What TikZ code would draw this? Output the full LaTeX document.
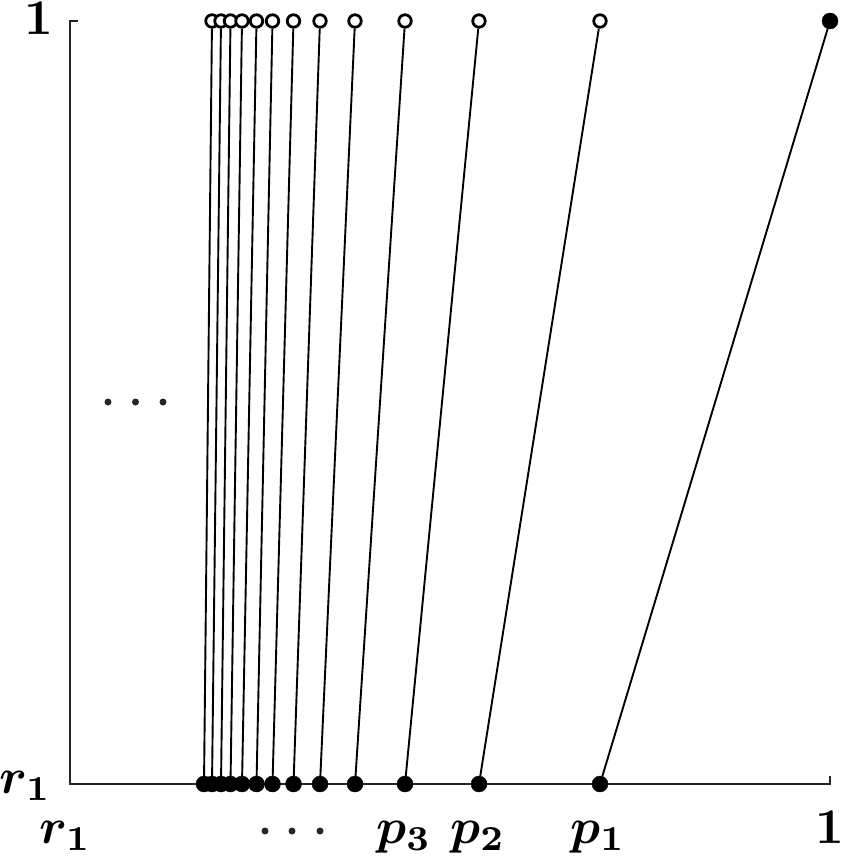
\documentclass[tikz,border=0pt]{standalone}
\usepackage{amsmath,bm}
\begin{document}
\begin{tikzpicture}[x=1pt,y=-1pt,
  axisline/.style={draw=black!85,line width=1.8pt},
  seg/.style={draw=black,line width=1.9pt},
  fdot/.style={circle,fill=black,draw=black,inner sep=0pt,minimum size=16pt},
  odot/.style={circle,fill=white,draw=black,line width=2.8pt,inner sep=0pt,minimum size=12.5pt},
  lbl/.style={inner sep=0pt,scale=5,font=\normalsize\boldmath},
  dotsym/.style={circle,fill=black!85,inner sep=0pt,minimum size=7pt}]
\useasboundingbox (0,0) rectangle (848,856);
% axes
\coordinate (o) at (70,784);
\coordinate (ytop) at (70,21);
\coordinate (xend) at (830,784);
\draw[axisline] (78,21) -- (ytop) -- (o) -- (xend) -- (830,776);
% points
\foreach \i/\x in {1/204,2/212,3/221,4/230.5,5/242,6/256.5,7/272.5,8/293.5,9/320,10/355,11/405,12/479,13/600}
  \node[fdot] (b\i) at (\x,784) {};
\foreach \i/\x in {2/212,3/221,4/230.5,5/242,6/256.5,7/272.5,8/293.5,9/320,10/355,11/405,12/479,13/600}
  \node[odot] (t\i) at (\x,21) {};
\node[fdot] (t14) at (830,21) {};
\foreach \i [evaluate=\i as \j using int(\i+1)] in {1,...,13}
  \draw[seg] (b\i) -- (t\j);
% labels
\node[lbl,anchor=base] (lone) at (38.5,35) {$\mathbf{1}$};
\node[lbl,anchor=base] (lr) at (25.5,793) {$r_1$};
\node[lbl,anchor=base] (br) at (65.5,843) {$r_1$};
\node[lbl,anchor=base] (p3) at (404,843) {$p_3$};
\node[lbl,anchor=base] (p2) at (478,843) {$p_2$};
\node[lbl,anchor=base] (p1) at (598,843) {$p_1$};
\node[lbl,anchor=base] (bone) at (830,843) {$\mathbf{1}$};
\foreach \x [count=\k] in {265,292,320} \node[dotsym] (bd\k) at (\x,831) {};
\foreach \x [count=\k] in {108,135.5,163} \node[dotsym] (ld\k) at (\x,402) {};
\end{tikzpicture}
\end{document}
